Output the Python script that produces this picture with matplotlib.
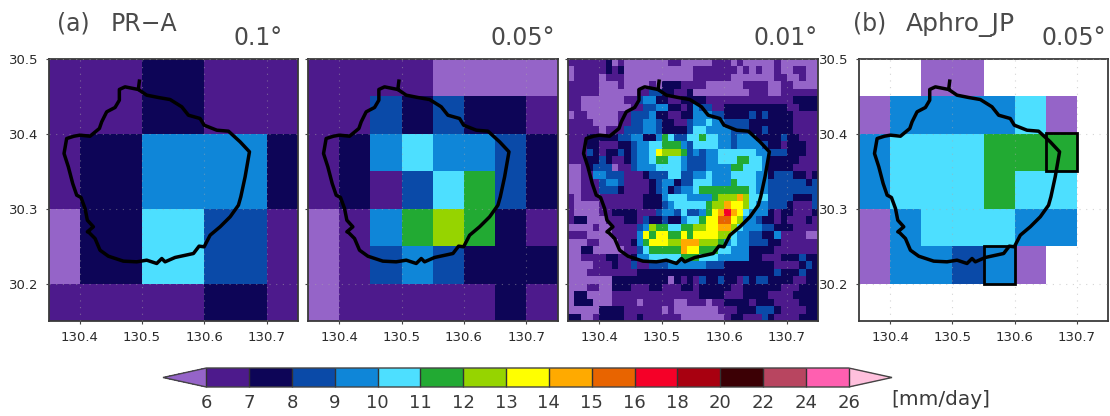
import numpy as np
import matplotlib
matplotlib.use("Agg")
import matplotlib.pyplot as plt
from matplotlib.colors import ListedColormap, BoundaryNorm
from matplotlib.colorbar import ColorbarBase
from matplotlib.patches import Rectangle

W, H = 1110, 416
LEVELS = [6, 7, 8, 9, 10, 11, 12, 13, 14, 15, 16, 18, 20, 22, 24, 26]
COLORS = ['#4d1a8c', '#0d0557', '#0a4aa8', '#0f86d8', '#4ddfff', '#22aa33', '#96d400',
          '#ffff00', '#ffaa00', '#e86400', '#f50028', '#a80010', '#3c0005', '#b84560', '#ff5fb0']
UNDER = '#9564c8'
OVER = '#ffc0dd'

LON_A = [130.35, 130.4, 130.5, 130.6, 130.7, 130.75]
LAT_A = [30.5, 30.4, 30.3, 30.2, 30.15]
PR_A_01 = [
    [6.5, 6.5, 7.5, 6.5, 6.5],
    [6.5, 7.5, 9.5, 9.5, 7.5],
    [5.5, 7.5, 10.5, 8.5, 6.5],
    [6.5, 6.5, 6.5, 7.5, 6.5],
]

LON_B = [130.35, 130.4, 130.45, 130.5, 130.55, 130.6, 130.65, 130.7, 130.75]
LAT_B = [30.5, 30.45, 30.4, 30.35, 30.3, 30.25, 30.2, 30.15]
PR_A_005 = [
    [6.5, 6.5, 6.5, 6.5, 5.5, 5.5, 5.5, 5.5],
    [6.5, 6.5, 8.5, 7.5, 8.5, 7.5, 7.5, 6.5],
    [6.5, 7.5, 9.5, 10.5, 9.5, 9.5, 8.5, 7.5],
    [6.5, 7.5, 6.5, 8.5, 10.5, 11.5, 8.5, 7.5],
    [5.5, 6.5, 9.5, 11.5, 12.5, 11.5, 7.5, 6.5],
    [5.5, 6.5, 8.5, 9.5, 8.5, 7.5, 7.5, 7.5],
    [5.5, 6.5, 6.5, 6.5, 6.5, 6.5, 7.5, 6.5],
]
N = float('nan')
APHRO_005 = [
    [N, N, 5.5, 5.5, N, N, N, N],
    [5.5, 9.5, 9.5, 9.5, 9.5, 10.5, 5.5, N],
    [9.5, 10.5, 10.5, 10.5, 11.5, 11.5, 11.5, N],
    [9.5, 10.5, 10.5, 10.5, 11.5, 10.5, 10.5, N],
    [5.5, 9.5, 10.5, 10.5, 10.5, 9.5, 9.5, N],
    [5.5, 9.5, 9.5, 8.5, 9.5, 5.5, N, N],
    [N, N, N, N, N, N, N, N],
]

# 0.01 degree field, top row first, one letter per cell
CODE = dict(a=5.5, b=6.5, c=7.5, d=8.5, e=9.5, f=10.5, g=11.5, h=12.5, i=13.5, j=14.5, k=15.5, l=17.0)
PR_A_001 = [
    'bbbbbbcabaaaaaaabbaa aaabbbabaaaaabaaaaaa',
    'abbbbbcbcaaaaaaaaaaa bbbbbbbababaabaabbaa',
    'abbbbabbbaaaaaaaaaaa bbbbbbaaaaaaabbaabaa',
    'bbbbbaaabaaaabacccbb bbaaaaaabbbbaabbaaaa',
    'bbbbbaaaaaabbddccbbc aaaaaaaaabbbaabbbbbb',
    'bbaaaaaaabbdeeccbbcc ccbbbbbbbbbbbbbbcccc',
    'bbaaaaaaaabbddeeccbc eddbbccccccccccbbccc',
    'abbaaaaabbdddeccbbcc eeeddccccdcdccccbbbb',
    'bbbbaaaabbddeedccbbd eefeeddddcccccccbbbb',
    'bbbbbabbbdddeedccccd ffeeeedddccdccccbbbb',
    'bbbcccccddeeccegfddf fgffeedeeeccccdccbbb',
    'bbbccbbbccdeeffggged ffffeedeeeedccbcccbb',
    'bbbdcbccdcdeefihhhgd edeeffffffeedddcccbb',
    'bbbccdcbbcdeefggffed ddeefffggffecccccbbb',
    'aabcdddabbdeeeffffed ddeeeeggfffeccccbbbb',
    'aabbeedddbbbcdddffdd eefeeeffffeecdddccbc',
    'aabbbdeedbbbbcdeecdd fffeeegfffeeddddddcd',
    'aabbbdddcbbbbcdecdee fggggggggfeedddddddd',
    'babbbbbbbbbbcccefffe eeeghhhjhfffddddcccd',
    'baaaabbbbbbbcccdefff ffghhjiihfeedddcbbbd',
    'baaaabbccccbbbdeedfd degijljifeeecbccbbbc',
    'bccaaabbbccbdccdccef fgiikkiheedccbcbbbcb',
    'aaaabaabbbbdehggffgg hhiijjhfeeeddcccbbbb',
    'bbbaaaabbbbeigiiggig iiiihhfeeddccebbbbaa',
    'aaabbaaabbcegiiihhjj jhhhgefeedddccbbbbbb',
    'aaccaaaaabbdfgggggji igggffeeeccccbbbbbbb',
    'aabbbbccbbceefffffgg gfffeeeeeccbbbcccdcc',
    'aaaabbbcbbdbbdddeeee eedddccccccccbbbbcdc',
    'aaabbbbbbbbccccccccc cccccccccccccdcccdcc',
    'aaaaaaacccccccccacbc bdccdccbdcddccccbbcc',
    'aaabbaacccbbbccbbbcc bcccccbbccccccbbbccc',
    'accaaaabbbbbbbbbbbbb bccccbbbccccbbbbcccc',
    'acccaaabbbbabbbbbaab bbabbccccbcccbbbbccc',
    'aaaaaccccbbbbbbabaaa aaaabbbcccdddcbbbbcc',
    'ccaabccccbbcbbbbbbaa aaaaabccbbbdcbbbbccc',
]

ISLAND_LON = [130.4957, 130.494, 130.4727, 130.4636, 130.4636, 130.4567, 130.4433, 130.4353, 130.4316,
              130.4166, 130.4005, 130.3909, 130.3791, 130.3749, 130.3818, 130.3888, 130.3952, 130.4021,
              130.4086, 130.4123, 130.4219, 130.4123, 130.4139, 130.4246, 130.4326, 130.446, 130.47, 130.4914, 130.5075,
              130.5235, 130.5316, 130.5369, 130.5529, 130.5824, 130.5914, 130.5995, 130.6091, 130.6251,
              130.6412, 130.6545, 130.6583, 130.6652, 130.6722, 130.6572, 130.6385, 130.6198, 130.5995,
              130.593, 130.5743, 130.5636, 130.5449, 130.5262, 130.5075, 130.4957]
ISLAND_LAT = [30.4698, 30.4587, 30.4622, 30.4587, 30.4444, 30.4347, 30.4289, 30.4156, 30.4067,
              30.3964, 30.3978, 30.3964, 30.3933, 30.3733, 30.3556, 30.3333, 30.3178, 30.3147,
              30.3, 30.2844, 30.2756, 30.2689, 30.2689, 30.26, 30.2444, 30.2364, 30.2298, 30.2289, 30.2311,
              30.2267, 30.2333, 30.2289, 30.2347, 30.24, 30.2498, 30.2489, 30.2644, 30.2756,
              30.2889, 30.3044, 30.3156, 30.3422, 30.3756, 30.3889, 30.4031, 30.4044, 30.4111,
              30.42, 30.4244, 30.4356, 30.4453, 30.448, 30.4511, 30.4578]
BOXES = [(130.65, 30.35), (130.55, 30.20)]
XTICKS = [130.4, 130.5, 130.6, 130.7]
YTICKS = [30.2, 30.3, 30.4, 30.5]

cmap = ListedColormap(COLORS)
cmap.set_under(UNDER)
cmap.set_over(OVER)
cmap.set_bad('white')
norm = BoundaryNorm(LEVELS, cmap.N)

fig = plt.figure(figsize=(W / 100, H / 100), dpi=100)


def px_axes(x0, x1, y0, y1):
    return fig.add_axes([x0 / W, 1 - y1 / H, (x1 - x0) / W, (y1 - y0) / H])


def panel(box, lon, lat, field, ylabels):
    ax = px_axes(*box)
    ax.pcolormesh(lon, lat, np.array(field, dtype=float), cmap=cmap, norm=norm,
                  shading='flat', antialiased=False, linewidth=0)
    ax.set_xlim(130.35, 130.75)
    ax.set_ylim(30.15, 30.5)
    ax.set_xticks(XTICKS)
    ax.set_xticklabels(['%.1f' % v for v in XTICKS], fontsize=9.5, color='#2a2a2a')
    ax.set_yticks(YTICKS)
    ax.set_yticklabels(['%.1f' % v for v in YTICKS] if ylabels else [], fontsize=9.5, color='#2a2a2a')
    ax.tick_params(length=2.5, width=0.8, color='#444444', pad=5)
    ax.grid(True, ls=(0, (1, 5)), lw=0.8, color='#aaaaaa', alpha=0.5)
    ax.set_axisbelow(False)
    for s in ax.spines.values():
        s.set_color('#3a3a3a')
        s.set_linewidth(1.3)
    ax.plot(ISLAND_LON, ISLAND_LAT, color='black', lw=2.5, solid_joinstyle='round', zorder=5)
    return ax


panel((48.5, 298, 58.5, 321), LON_A, LAT_A, PR_A_01, True)
panel((308, 557.5, 58.5, 321), LON_B, LAT_B, PR_A_005, False)
c_field = [[CODE[ch] for ch in row.replace(' ', '')] for row in PR_A_001]
panel((568, 818, 58.5, 321), np.linspace(130.35, 130.75, 41), np.linspace(30.5, 30.15, 36), c_field, False)
ax_d = panel((859, 1108, 58.5, 321), LON_B, LAT_B, APHRO_005, True)
for bx, by in BOXES:
    ax_d.add_patch(Rectangle((bx, by), 0.05, 0.05, fill=False, ec='black', lw=2.0, zorder=6))


def label(x, y, s, size, ha='left', color='#4a4a4a'):
    fig.text(x / W, 1 - y / H, s, fontsize=size, ha=ha, va='baseline', color=color)


label(57, 31, '(a)', 17)
label(111, 31, 'PR\u2212A', 17)
label(283, 45, '0.1\u00b0', 17, ha='right')
label(555, 45, '0.05\u00b0', 17, ha='right')
label(818, 45, '0.01\u00b0', 17, ha='right')
label(853, 31, '(b)', 17)
label(906, 31, 'Aphro_JP', 18)
label(1106, 45, '0.05\u00b0', 17, ha='right')

cax = px_axes(163, 892, 368, 387)
cb = ColorbarBase(cax, cmap=cmap, norm=norm, orientation='horizontal', extend='both',
                  spacing='uniform', extendfrac=0.0675, drawedges=True, ticks=LEVELS)
cb.ax.tick_params(length=0, labelsize=13, labelcolor='#3a3a3a', pad=5)
cb.dividers.set_color('#333333')
cb.dividers.set_linewidth(1.0)
cb.outline.set_edgecolor('#444444')
cb.outline.set_linewidth(1.0)
label(891, 405, '[mm/day]', 14.5, color='#3a3a3a')

fig.savefig('out.png', dpi=100)
